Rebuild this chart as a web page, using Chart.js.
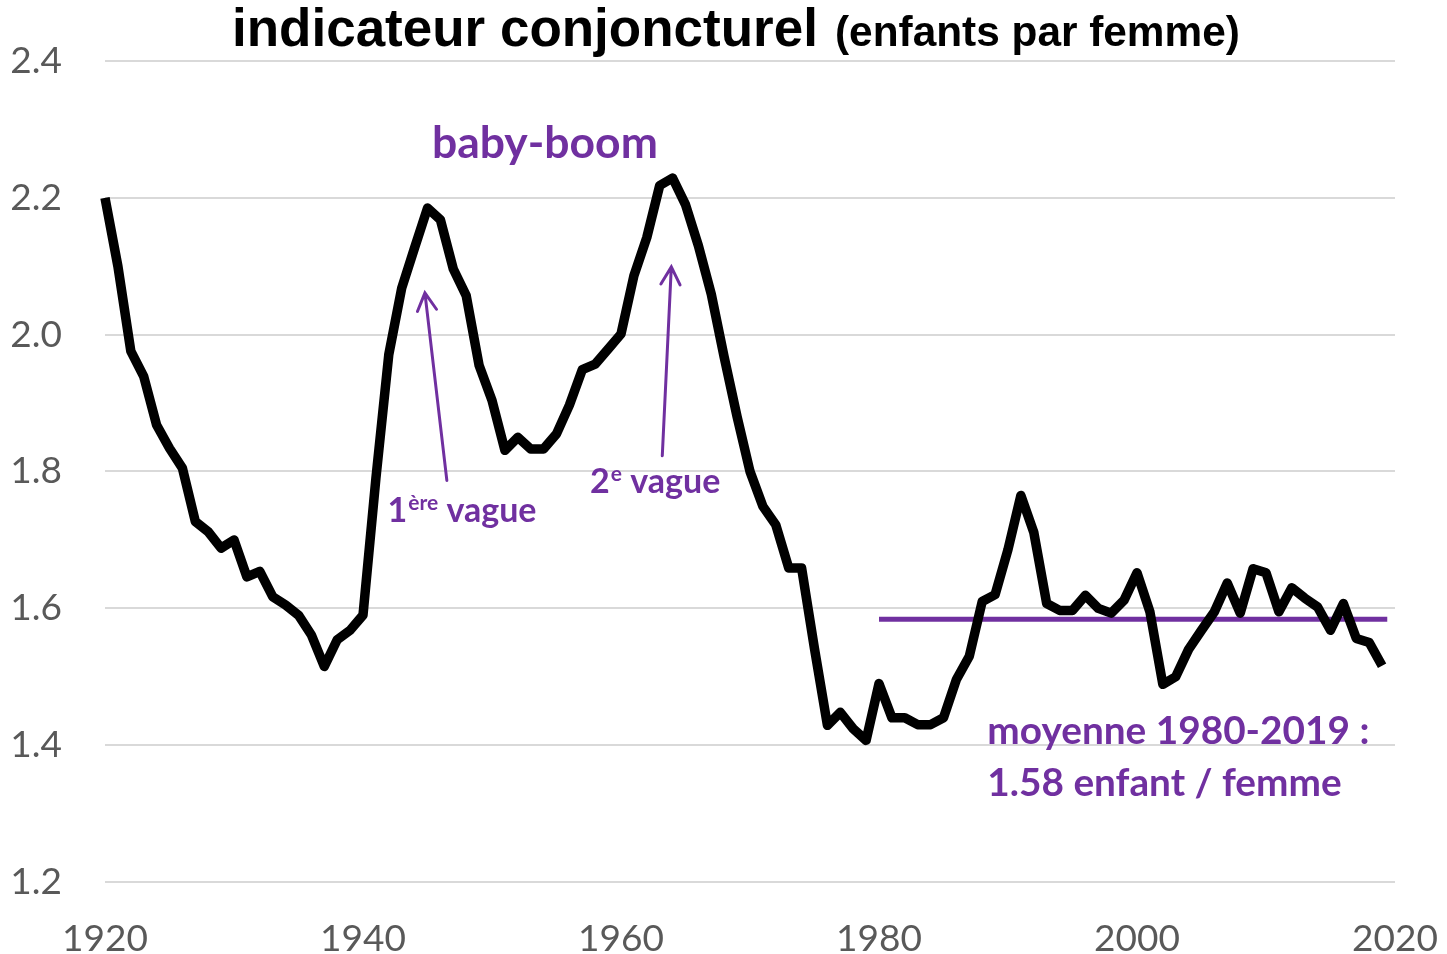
<!DOCTYPE html>
<html>
<head>
<meta charset="utf-8">
<script src="https://cdn.jsdelivr.net/npm/chart.js@4.4.1/dist/chart.umd.min.js"></script>
<style>
  html, body { margin: 0; padding: 0; background: #fff; }
  #wrap { width: 1447px; height: 954px; }
</style>
</head>
<body>
<div id="wrap"><canvas id="tfr" width="1447" height="954"></canvas></div>
<script>
// indicateur conjoncturel de fécondité, 1920-2019 (one value per year)
const firstYear = 1920;
const tfrValues = [
  2.20, 2.10, 1.976, 1.939, 1.868, 1.834, 1.805, 1.727, 1.712, 1.688,
  1.70, 1.646, 1.654, 1.617, 1.605, 1.59, 1.561, 1.515, 1.554, 1.568,
  1.59, 1.79, 1.971, 2.068, 2.127, 2.185, 2.168, 2.096, 2.057, 1.955,
  1.904, 1.831, 1.85, 1.833, 1.833, 1.855, 1.897, 1.949, 1.957, 1.979,
  2.001, 2.086, 2.142, 2.218, 2.229, 2.19, 2.13, 2.059, 1.967, 1.88,
  1.80, 1.749, 1.722, 1.659, 1.659, 1.541, 1.429, 1.448, 1.424, 1.407,
  1.49, 1.44, 1.44, 1.43, 1.43, 1.44, 1.496, 1.53, 1.61, 1.62,
  1.686, 1.765, 1.711, 1.607, 1.597, 1.597, 1.619, 1.60, 1.593, 1.612,
  1.652, 1.595, 1.489, 1.50, 1.54, 1.568, 1.595, 1.637, 1.593, 1.658,
  1.652, 1.595, 1.63, 1.615, 1.602, 1.568, 1.607, 1.556, 1.55, 1.516
];
// moyenne 1980-2019
const meanYears = [1980, 2019.4];
const meanValue = 1.584;

const xTicks = [1920, 1940, 1960, 1980, 2000, 2020];
const yTicks = [1.2, 1.4, 1.6, 1.8, 2.0, 2.2, 2.4];

const titleMain = 'indicateur conjoncturel';
const titleSub = '(enfants par femme)';

const purple = '#7030A0';

const tfrPoints = tfrValues.map((v, i) => ({ x: firstYear + i, y: v }));
const meanPoints = meanYears.map(yr => ({ x: yr, y: meanValue }));

function fitSize(ctx, text, weight, family, width) {
  ctx.font = weight + ' 100px ' + family;
  return 100 * width / ctx.measureText(text).width;
}

function arrow(ctx, x1, y1, x2, y2) {
  const a = Math.atan2(y2 - y1, x2 - x1);
  const len = 20, spread = 0.5;
  ctx.beginPath();
  ctx.moveTo(x1, y1);
  ctx.lineTo(x2, y2);
  ctx.moveTo(x2 - len * Math.cos(a - spread), y2 - len * Math.sin(a - spread));
  ctx.lineTo(x2, y2);
  ctx.lineTo(x2 - len * Math.cos(a + spread), y2 - len * Math.sin(a + spread));
  ctx.stroke();
}

const annotations = {
  id: 'annotations',
  afterDraw(chart) {
    const { ctx, scales: { x, y } } = chart;
    ctx.save();

    // title, two sizes
    ctx.fillStyle = '#000';
    ctx.textBaseline = 'alphabetic';
    ctx.textAlign = 'left';
    let s = fitSize(ctx, titleMain, 'bold', '"Liberation Sans", Arial', 586);
    ctx.font = 'bold ' + s + 'px "Liberation Sans", Arial';
    ctx.fillText(titleMain, 232, 46);
    s = fitSize(ctx, titleSub, 'bold', '"Liberation Sans", Arial', 405);
    ctx.font = 'bold ' + s + 'px "Liberation Sans", Arial';
    ctx.fillText(titleSub, 835, 46);

    ctx.fillStyle = purple;
    ctx.strokeStyle = purple;

    // baby-boom
    s = fitSize(ctx, 'baby-boom', 'bold', 'Lato', 226);
    ctx.font = 'bold ' + s + 'px Lato';
    ctx.textAlign = 'center';
    ctx.fillText('baby-boom', x.getPixelForValue(1954.1), y.getPixelForValue(2.258));
    ctx.textAlign = 'left';

    // 1ère vague
    let px = x.getPixelForValue(1941.9), py = y.getPixelForValue(1.726);
    ctx.font = 'bold 34px Lato';
    ctx.fillText('1', px, py);
    px += ctx.measureText('1').width + 1;
    ctx.font = 'bold 21px Lato';
    ctx.fillText('ère', px, py - 12);
    px += ctx.measureText('ère').width;
    ctx.font = 'bold 34px Lato';
    ctx.fillText(' vague', px, py);

    // 2e vague
    px = x.getPixelForValue(1957.6); py = y.getPixelForValue(1.768);
    ctx.fillText('2', px, py);
    px += ctx.measureText('2').width + 1;
    ctx.font = 'bold 21px Lato';
    ctx.fillText('e', px, py - 12);
    px += ctx.measureText('e').width;
    ctx.font = 'bold 34px Lato';
    ctx.fillText(' vague', px, py);

    // arrows
    ctx.lineWidth = 3;
    ctx.lineCap = 'round';
    arrow(ctx, x.getPixelForValue(1946.5), y.getPixelForValue(1.787),
               x.getPixelForValue(1944.8), y.getPixelForValue(2.061));
    arrow(ctx, x.getPixelForValue(1963.2), y.getPixelForValue(1.823),
               x.getPixelForValue(1963.9), y.getPixelForValue(2.099));

    // moyenne
    const l1 = 'moyenne 1980-2019 :';
    const l2 = '1.58 enfant / femme';
    s = fitSize(ctx, l1, 'bold', 'Lato', 382);
    ctx.font = 'bold ' + s + 'px Lato';
    px = x.getPixelForValue(1988.4);
    ctx.fillText(l1, px, y.getPixelForValue(1.401));
    ctx.fillText(l2, px, y.getPixelForValue(1.325));

    ctx.restore();
  }
};

new Chart(document.getElementById('tfr'), {
  type: 'line',
  data: {
    datasets: [{
      label: 'indicateur conjoncturel',
      data: tfrPoints,
      borderColor: '#000',
      borderWidth: 9.5,
      borderJoinStyle: 'round',
      borderCapStyle: 'butt',
      pointRadius: 0,
      tension: 0
    }, {
      label: 'moyenne 1980-2019',
      data: meanPoints,
      borderColor: purple,
      borderWidth: 5,
      pointRadius: 0
    }]
  },
  options: {
    responsive: false,
    animation: false,
    clip: false,
    layout: { padding: { top: 61, right: 52, left: 0, bottom: 0 } },
    plugins: {
      legend: { display: false },
      tooltip: { enabled: false }
    },
    scales: {
      x: {
        type: 'linear',
        min: 1920,
        max: 2020,
        afterBuildTicks: axis => { axis.ticks = xTicks.map(v => ({ value: v })); },
        afterFit: axis => { axis.height = 72; },
        // invisible tick marks give the label gap without widening the side padding
        grid: { display: true, drawOnChartArea: false, drawTicks: true, tickLength: 32, tickColor: 'rgba(0,0,0,0)' },
        border: { display: false },
        ticks: {
          color: '#595959',
          font: { family: 'Lato', size: 37 },
          padding: 3,
          maxRotation: 0,
          callback: v => String(v)
        }
      },
      y: {
        min: 1.2,
        max: 2.4,
        afterBuildTicks: axis => { axis.ticks = yTicks.map(v => ({ value: v })); },
        afterFit: axis => { axis.width = 105; },
        grid: { color: '#d9d9d9', lineWidth: 2, drawTicks: true, tickLength: 40, tickColor: 'rgba(0,0,0,0)' },
        border: { display: false },
        ticks: {
          color: '#595959',
          font: { family: 'Lato', size: 37 },
          padding: 3,
          callback: v => v.toFixed(1)
        }
      }
    }
  },
  plugins: [annotations]
});
</script>
</body>
</html>
